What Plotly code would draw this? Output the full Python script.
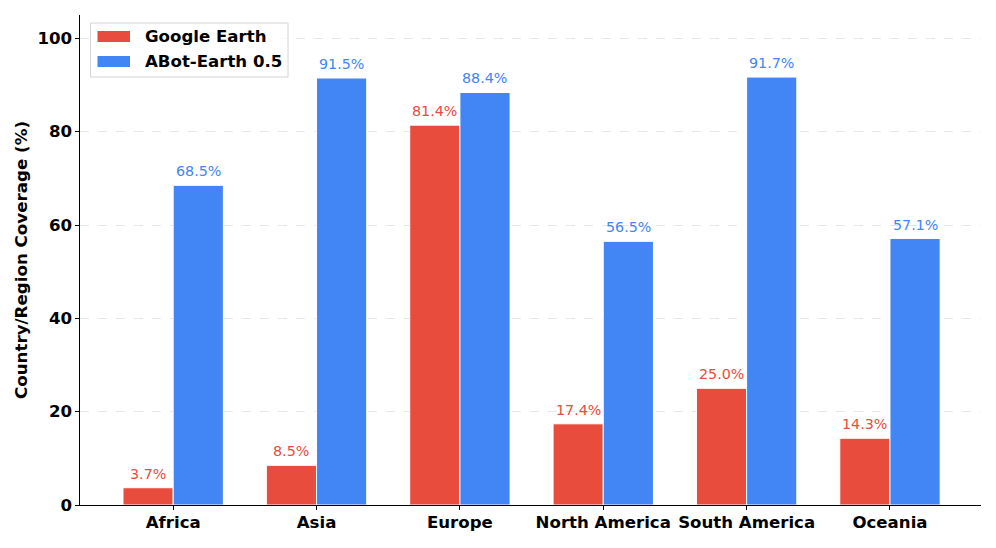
import plotly.graph_objects as go

categories = ["Africa", "Asia", "Europe", "North America", "South America", "Oceania"]
google_earth = [3.7, 8.5, 81.4, 17.4, 25.0, 14.3]
abot_earth = [68.5, 91.5, 88.4, 56.5, 91.7, 57.1]
series_names = ["Google Earth", "ABot-Earth 0.5"]
y_ticks = [0, 20, 40, 60, 80, 100]

RED = "#E74C3C"
BLUE = "#4285F4"
FONT = "DejaVu Sans"
W = 0.35

FIG_W, FIG_H = 996, 548
ML, MR, MT, MB = 80, 15, 15, 43
PW, PH = FIG_W - ML - MR, FIG_H - MT - MB


def px(x):
    return (x - ML) / PW


def py(y):
    return 1 - (y - MT) / PH


idx = list(range(len(categories)))
colors = [RED, BLUE]
fig = go.Figure()
fig.add_trace(go.Bar(x=idx, y=google_earth, name=series_names[0], width=W, offset=-W,
                     marker=dict(color=RED, line=dict(color="white", width=1))))
fig.add_trace(go.Bar(x=idx, y=abot_earth, name=series_names[1], width=W, offset=0,
                     marker=dict(color=BLUE, line=dict(color="white", width=1))))

annotations = []
for i, (g, a) in enumerate(zip(google_earth, abot_earth)):
    annotations.append(dict(x=i - W / 2, y=g, text=f"{g:.1f}%", showarrow=False, xref="x", yref="y",
                            yanchor="bottom", yshift=4, font=dict(family=FONT, size=14.3, color=RED)))
    annotations.append(dict(x=i + W / 2, y=a, text=f"{a:.1f}%", showarrow=False, xref="x", yref="y",
                            yanchor="bottom", yshift=4, font=dict(family=FONT, size=14.3, color=BLUE)))

# custom legend (matplotlib-like wide swatches)
shapes = [dict(type="rect", xref="paper", yref="paper", x0=px(90.5), x1=px(288), y0=py(77), y1=py(23),
               line=dict(color="#d4d4d4", width=1), fillcolor="rgba(255,255,255,0.8)", layer="above")]
row_y = [36.5, 61.5]
for name, col, ry in zip(series_names, colors, row_y):
    shapes.append(dict(type="rect", xref="paper", yref="paper", x0=px(97.5), x1=px(130),
                       y0=py(ry + 5.5), y1=py(ry - 5.5), line=dict(width=0), fillcolor=col, layer="above"))
    annotations.append(dict(x=px(143), y=py(ry), xref="paper", yref="paper", text=f"<b>{name}</b>",
                            showarrow=False, xanchor="left", yanchor="middle",
                            font=dict(family=FONT, size=16.6, color="black")))

fig.update_layout(
    width=FIG_W, height=FIG_H,
    margin=dict(l=ML, r=MR, t=MT, b=MB),
    plot_bgcolor="white", paper_bgcolor="white",
    font=dict(family=FONT, color="black"),
    showlegend=False,
    annotations=annotations,
    shapes=shapes,
    xaxis=dict(range=[-0.65, 5.635], tickvals=idx, ticktext=categories,
               tickfont=dict(family=FONT, size=16.6, weight="bold"),
               showline=True, linecolor="black", linewidth=1.2,
               ticks="outside", ticklen=3.5, tickcolor="black", ticklabelstandoff=-2,
               showgrid=False, zeroline=False),
    yaxis=dict(range=[0, 105], tickvals=y_ticks,
               tickfont=dict(family=FONT, size=16.6, weight="bold"),
               title=dict(text="Country/Region Coverage (%)", font=dict(family=FONT, size=16.7, weight="bold"), standoff=5),
               showline=True, linecolor="black", linewidth=1.2,
               ticks="outside", ticklen=3.5, tickcolor="black",
               showgrid=True, gridcolor="#e6e6e6", griddash="dash", gridwidth=1, zeroline=False),
)

fig.write_html("out.html")
